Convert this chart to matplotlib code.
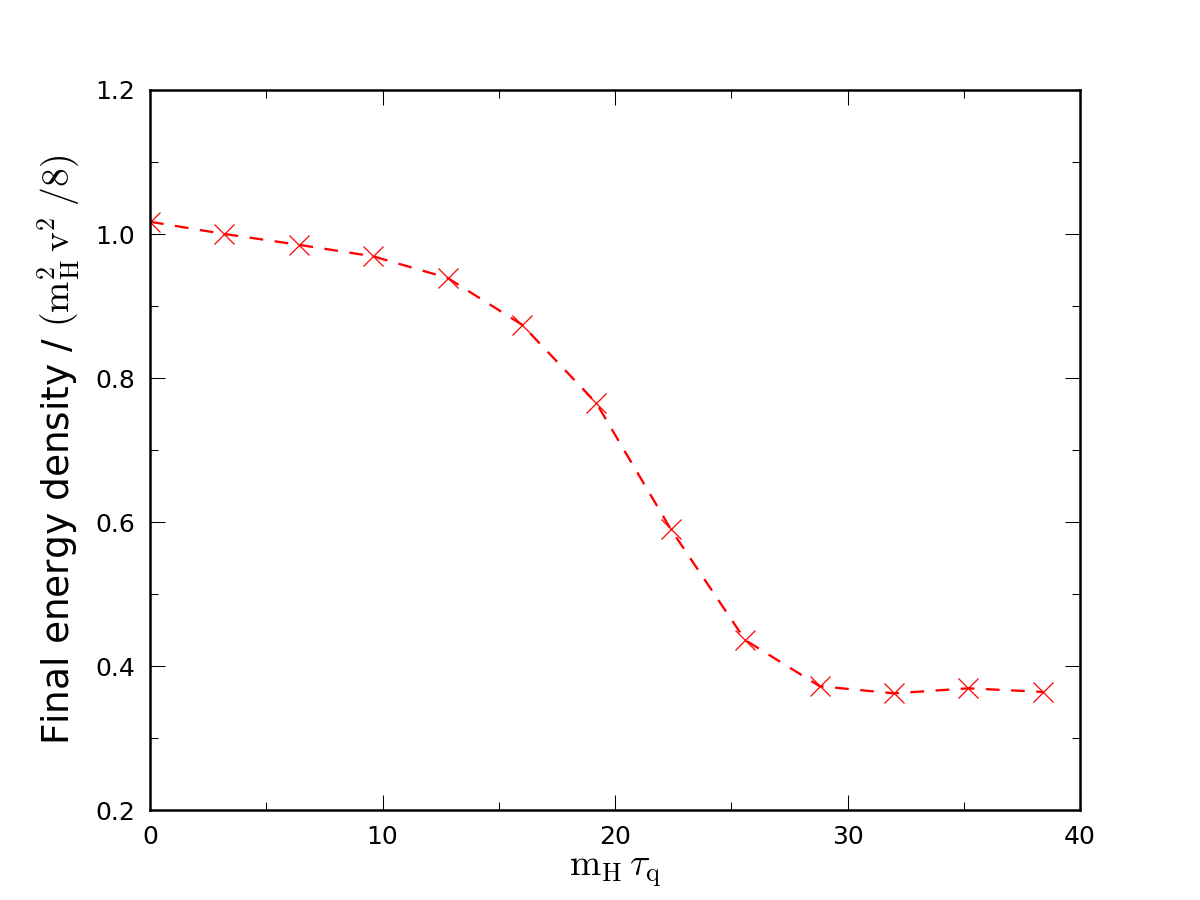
import matplotlib
matplotlib.use("Agg")
import matplotlib.pyplot as plt
from matplotlib.ticker import MultipleLocator

x_values = [0.0, 3.2, 6.4, 9.6, 12.8, 16.0, 19.2, 22.4, 25.6, 28.8, 32.0, 35.2, 38.4]
y_values = [1.017, 1.000, 0.985, 0.969, 0.939, 0.874, 0.765, 0.590, 0.436, 0.372, 0.362, 0.369, 0.364]

plt.rcParams['mathtext.fontset'] = 'cm'
plt.rcParams['font.family'] = 'DejaVu Sans'

fig = plt.figure(figsize=(8, 6), dpi=150)
ax = fig.add_axes([0.125, 0.1, 0.775, 0.8])

ax.plot(x_values, y_values, linestyle='--', color='red', linewidth=1.1,
        dashes=(6, 5), marker='x', markersize=10, markeredgewidth=0.6)

ax.set_xlim(0, 40)
ax.set_ylim(0.2, 1.2)
ax.xaxis.set_major_locator(MultipleLocator(10))
ax.xaxis.set_minor_locator(MultipleLocator(5))
ax.yaxis.set_major_locator(MultipleLocator(0.2))
ax.yaxis.set_minor_locator(MultipleLocator(0.1))
ax.tick_params(which='both', direction='in', top=True, right=True, labelsize=12,
               width=0.5, color='black', pad=7)
ax.tick_params(which='major', length=7)
ax.tick_params(which='minor', length=3.8)
for s in ax.spines.values():
    s.set_linewidth(1.2)

ax.set_xlabel(r'$\mathrm{m_H}\,\tau_{\mathrm{q}}$', fontsize=18, labelpad=2)
ax.set_ylabel(r'Final energy density / $(\mathrm{m_H^2\,v^2\;/8})$', fontsize=18, labelpad=6)

fig.savefig('out.png', dpi=150)
